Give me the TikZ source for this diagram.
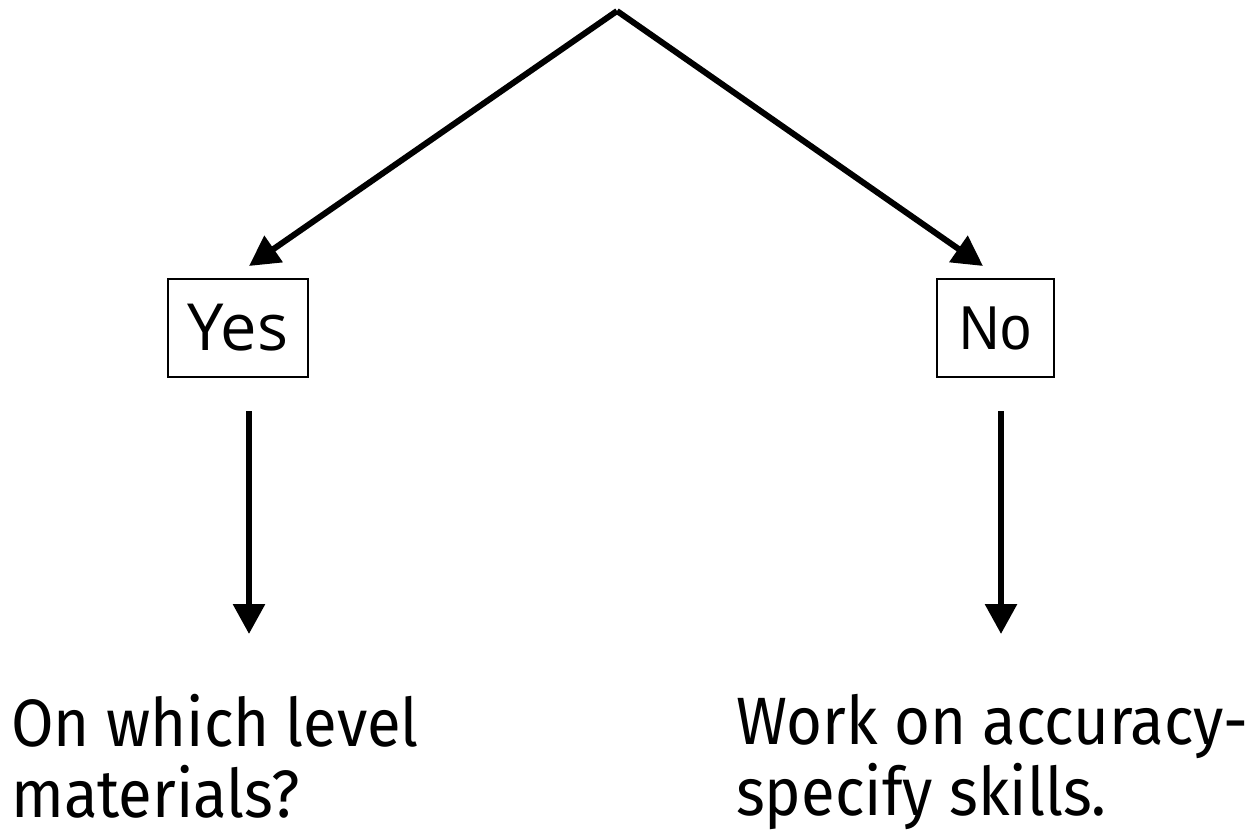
\documentclass[tikz,border=0pt]{standalone}
\usepackage{fontspec}
\setmainfont{Fira Sans}
\newfontfamily\lblfont[FakeStretch=0.92]{Fira Sans}
\newfontfamily\yesfont{Open Sans}
\newfontfamily\nofont[FakeStretch=0.9]{Liberation Sans}
\usetikzlibrary{arrows.meta}
\begin{document}
\begin{tikzpicture}[x=1pt,y=-1pt,
  conn/.style={line width=6pt, -{Triangle[length=30pt,width=31pt]}},
  ans/.style={draw, line width=1.8pt, minimum height=98pt, inner sep=0pt},
  lbl/.style={anchor=north west, inner sep=0pt, align=left, font=\lblfont\fontsize{67}{71}\selectfont}]
\useasboundingbox (0,0) rectangle (1253,838);
\coordinate (top) at (617,11);
\node[ans, minimum width=140pt, font=\yesfont\fontsize{65}{65}\selectfont] (yes) at (238,328) {Yes};
\node[ans, minimum width=117pt, font=\nofont\fontsize{62}{62}\selectfont] (no) at (995.5,328) {No};
\coordinate (ltip) at (249,266);
\coordinate (rtip) at (983,266);
\draw[conn] (top) -- (ltip);
\draw[conn] (top) -- (rtip);
\coordinate (ys) at (249,411);
\coordinate (ye) at (249,634);
\coordinate (ns) at (1001,411);
\coordinate (ne) at (1001,634);
\draw[conn] (ys) -- (ye);
\draw[conn] (ns) -- (ne);
\node[lbl] (ltext) at (11,694) {On which level\\materials?};
\node[lbl] (rtext) at (736,694) {Work on accuracy-\\specify skills.};
\end{tikzpicture}
\end{document}
